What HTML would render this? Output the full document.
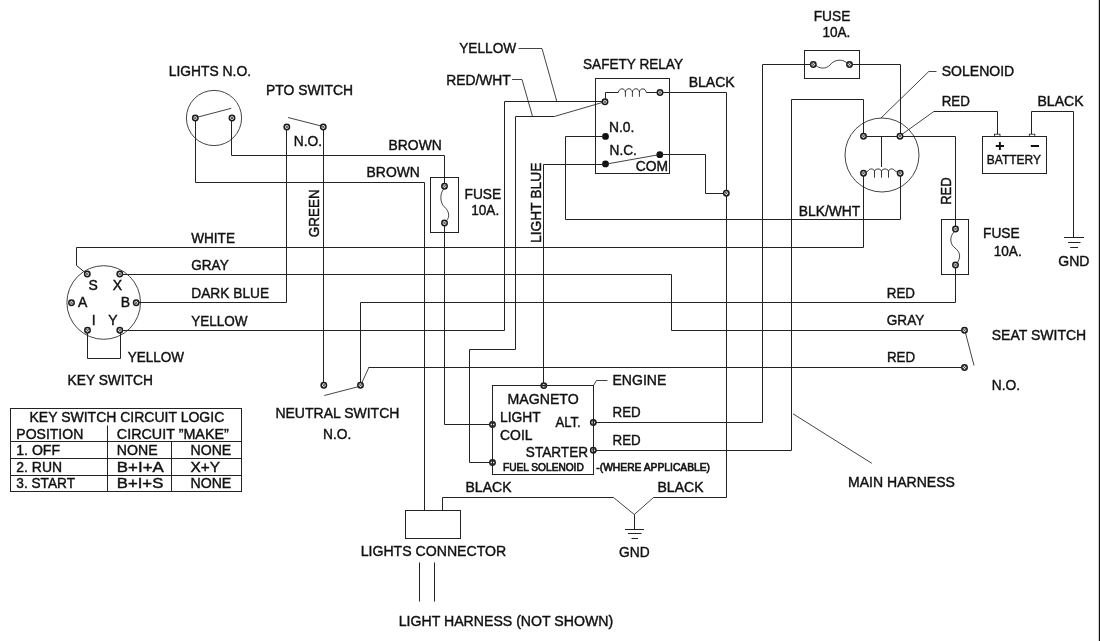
<!DOCTYPE html>
<html lang="en">
<head>
<meta charset="utf-8">
<title>Wiring Diagram</title>
<style>
html,body{margin:0;padding:0;background:#fff;}
body{width:1100px;height:641px;overflow:hidden;}
svg{display:block;will-change:transform;}
text{font-family:"Liberation Sans",Arial,Helvetica,sans-serif;font-size:14px;fill:#111;stroke:#111;stroke-width:0.4px;}
text.s{font-size:10px;stroke-width:0.6px;}
text.m{font-size:12px;}
.w,.wn{fill:none;stroke:#222;stroke-width:1;}
.t{fill:none;stroke:#222;stroke-width:0.85;}
.tm circle{fill:#e4e4e4;stroke:#1a1a1a;stroke-width:1.5;}
.tm path{fill:none;stroke:#333;stroke-width:0.8;}
.d{fill:#111;stroke:none;}
.c{fill:none;stroke:#222;stroke-width:0.9;}
.b{fill:none;stroke:#111;stroke-width:1.9;}
</style>
</head>
<body>
<svg width="1100" height="641" viewBox="0 0 1100 641">
<rect x="1098.8" y="0" width="1.2" height="641" fill="#111"/>
<text transform="translate(168.7 76.25) scale(1 1.085)" textLength="82.3" lengthAdjust="spacingAndGlyphs">LIGHTS N.O.</text>
<circle class="t" cx="214" cy="118" r="27.6"/>
<g class="tm"><circle cx="195.3" cy="118" r="2.7"/><path d="M193.5 119.8L197.1 116.2M193.5 116.2L197.1 119.8"/></g>
<g class="tm"><circle cx="232" cy="118" r="2.7"/><path d="M230.2 119.8L233.8 116.2M230.2 116.2L233.8 119.8"/></g>
<path class="t" d="M197 117.3 L231.3 108.3"/>
<path class="w" d="M195.5 120.5 L195.5 182.5 L424.5 182.5 L424.5 510.5"/>
<path class="w" d="M231.5 120.5 L231.5 155.5 L444.5 155.5 L444.5 184"/>
<text transform="translate(266 95.25) scale(1 1.085)" textLength="87" lengthAdjust="spacingAndGlyphs">PTO SWITCH</text>
<g class="tm"><circle cx="286.8" cy="127" r="2.7"/><path d="M285 128.8L288.6 125.2M285 125.2L288.6 128.8"/></g>
<g class="tm"><circle cx="323.3" cy="127" r="2.7"/><path d="M321.5 128.8L325.1 125.2M321.5 125.2L325.1 128.8"/></g>
<path class="t" d="M288 117.5 L322 126.2"/>
<text transform="translate(293.7 145.85) scale(1 1.085)" textLength="28.3" lengthAdjust="spacingAndGlyphs">N.O.</text>
<path class="w" d="M286.5 129.5 L286.5 302.5"/>
<path class="w" d="M323.5 129.5 L323.5 382.5"/>
<text transform="translate(318.8 237.25) rotate(-90) scale(1 1.085)" textLength="47.9" lengthAdjust="spacingAndGlyphs">GREEN</text>
<text transform="translate(388.5 150.25) scale(1 1.085)" textLength="53.3" lengthAdjust="spacingAndGlyphs">BROWN</text>
<text transform="translate(366.6 177.25) scale(1 1.085)" textLength="53.3" lengthAdjust="spacingAndGlyphs">BROWN</text>
<rect class="w" x="430.5" y="177.5" width="28" height="55"/>
<g class="tm"><circle cx="444.5" cy="186.3" r="2.7"/><path d="M442.7 188.1L446.3 184.5M442.7 184.5L446.3 188.1"/></g>
<g class="tm"><circle cx="444.5" cy="223" r="2.7"/><path d="M442.7 224.8L446.3 221.2M442.7 221.2L446.3 224.8"/></g>
<path class="t" d="M443.8 188.8C439.5 194 440 203 444.5 207C449 211 450.5 217 446 221.2"/>
<text transform="translate(464.5 199.25) scale(1 1.085)" textLength="36.7" lengthAdjust="spacingAndGlyphs">FUSE</text>
<text transform="translate(471.2 215.25) scale(1 1.085)" textLength="28" lengthAdjust="spacingAndGlyphs">10A.</text>
<path class="w" d="M444.5 225.5 L444.5 424.5 L490 424.5"/>
<circle class="t" cx="103.7" cy="302.5" r="36.8"/>
<g class="tm"><circle cx="87.3" cy="274" r="2.7"/><path d="M85.5 275.8L89.1 272.2M85.5 272.2L89.1 275.8"/></g>
<g class="tm"><circle cx="119.8" cy="274" r="2.7"/><path d="M118 275.8L121.6 272.2M118 272.2L121.6 275.8"/></g>
<g class="tm"><circle cx="71.5" cy="302.8" r="2.7"/><path d="M69.7 304.6L73.3 301M69.7 301L73.3 304.6"/></g>
<g class="tm"><circle cx="136.2" cy="302.8" r="2.7"/><path d="M134.4 304.6L138 301M134.4 301L138 304.6"/></g>
<g class="tm"><circle cx="87.5" cy="330.3" r="2.7"/><path d="M85.7 332.1L89.3 328.5M85.7 328.5L89.3 332.1"/></g>
<g class="tm"><circle cx="119.8" cy="330.3" r="2.7"/><path d="M118 332.1L121.6 328.5M118 328.5L121.6 332.1"/></g>
<text transform="translate(88.5 289.65) scale(1 1.085)">S</text>
<text transform="translate(112.7 289.65) scale(1 1.085)">X</text>
<text transform="translate(78 306.65) scale(1 1.085)">A</text>
<text transform="translate(120.7 306.65) scale(1 1.085)">B</text>
<text transform="translate(91.7 324.95) scale(1 1.085)">I</text>
<text transform="translate(108.3 324.95) scale(1 1.085)">Y</text>
<path class="w" d="M85 272.5 L76.5 265.5 L76.5 247.5 L863.5 247.5 L863.5 176"/>
<text transform="translate(191.2 242.65) scale(1 1.085)" textLength="43.75" lengthAdjust="spacingAndGlyphs">WHITE</text>
<path class="w" d="M122.5 274.5 L671.5 274.5 L671.5 330.5 L962 330.5"/>
<text transform="translate(191.2 269.85) scale(1 1.085)" textLength="37.5" lengthAdjust="spacingAndGlyphs">GRAY</text>
<path class="w" d="M138.5 302.5 L286.5 302.5"/>
<text transform="translate(191.2 297.65) scale(1 1.085)" textLength="78" lengthAdjust="spacingAndGlyphs">DARK BLUE</text>
<path class="w" d="M122.5 330.5 L504.5 330.5 L504.5 101.5 L602.5 101.5"/>
<text transform="translate(191.2 325.55) scale(1 1.085)" textLength="56.3" lengthAdjust="spacingAndGlyphs">YELLOW</text>
<path class="w" d="M87.5 333 L87.5 358.5 L120.5 358.5 L120.5 333"/>
<text transform="translate(127.8 362.25) scale(1 1.085)" textLength="56.3" lengthAdjust="spacingAndGlyphs">YELLOW</text>
<text transform="translate(67.5 385.05) scale(1 1.085)" textLength="85.5" lengthAdjust="spacingAndGlyphs">KEY SWITCH</text>
<rect class="w" x="10.5" y="408.5" width="231" height="83"/>
<path class="w" d="M10.5 441.5 L241.5 441.5"/>
<path class="w" d="M10.5 458.5 L241.5 458.5"/>
<path class="w" d="M10.5 475.5 L241.5 475.5"/>
<path class="w" d="M107.5 425.5 L107.5 491.5"/>
<path class="w" d="M171.5 441.5 L171.5 491.5"/>
<text transform="translate(29.5 422.15) scale(1 1.085)" textLength="194.75" lengthAdjust="spacingAndGlyphs">KEY SWITCH CIRCUIT LOGIC</text>
<text transform="translate(16.3 438.75) scale(1 1.085)" textLength="67" lengthAdjust="spacingAndGlyphs">POSITION</text>
<text transform="translate(116.8 438.75) scale(1 1.085)" textLength="112" lengthAdjust="spacingAndGlyphs">CIRCUIT ”MAKE”</text>
<text transform="translate(16.3 455.25) scale(1 1.085)" textLength="43.75" lengthAdjust="spacingAndGlyphs">1. OFF</text>
<text transform="translate(116.8 455.25) scale(1 1.085)" textLength="40.8" lengthAdjust="spacingAndGlyphs">NONE</text>
<text transform="translate(190.5 455.25) scale(1 1.085)" textLength="40.8" lengthAdjust="spacingAndGlyphs">NONE</text>
<text transform="translate(16.3 471.85) scale(1 1.085)" textLength="45.75" lengthAdjust="spacingAndGlyphs">2. RUN</text>
<text transform="translate(116.8 471.85) scale(1 1.085)" textLength="47" lengthAdjust="spacingAndGlyphs">B+I+A</text>
<text transform="translate(190.5 471.85) scale(1 1.085)" textLength="29.5" lengthAdjust="spacingAndGlyphs">X+Y</text>
<text transform="translate(16.3 488.15) scale(1 1.085)" textLength="58.75" lengthAdjust="spacingAndGlyphs">3. START</text>
<text transform="translate(116.8 488.15) scale(1 1.085)" textLength="46.5" lengthAdjust="spacingAndGlyphs">B+I+S</text>
<text transform="translate(190.5 488.15) scale(1 1.085)" textLength="40.8" lengthAdjust="spacingAndGlyphs">NONE</text>
<g class="tm"><circle cx="323.8" cy="385.3" r="2.7"/><path d="M322 387.1L325.6 383.5M322 383.5L325.6 387.1"/></g>
<g class="tm"><circle cx="360.5" cy="385.3" r="2.7"/><path d="M358.7 387.1L362.3 383.5M358.7 383.5L362.3 387.1"/></g>
<path class="t" d="M359 386.5 L324.3 395.5"/>
<path class="t" d="M361.5 383.5 L368.8 367.5"/>
<path class="w" d="M360.5 382.8 L360.5 302.5 L955.5 302.5 L955.5 267.5"/>
<path class="w" d="M368.5 367.5 L962 367.5"/>
<text transform="translate(275.4 417.55) scale(1 1.085)" textLength="124" lengthAdjust="spacingAndGlyphs">NEUTRAL SWITCH</text>
<text transform="translate(323 438.65) scale(1 1.085)" textLength="28.3" lengthAdjust="spacingAndGlyphs">N.O.</text>
<text transform="translate(459.2 53.05) scale(1 1.085)" textLength="57" lengthAdjust="spacingAndGlyphs">YELLOW</text>
<path class="t" d="M518.5 48.5 L542 48.5 L556.8 101.3"/>
<text transform="translate(446.2 84.75) scale(1 1.085)" textLength="64.6" lengthAdjust="spacingAndGlyphs">RED/WHT</text>
<path class="t" d="M512 79.5 L522 79.5 L532.5 116.3"/>
<path class="w" d="M515.5 349.5 L515.5 116.5 L554.3 116.5"/>
<path class="t" d="M554.3 116.5 L603 102.3"/>
<path class="w" d="M515.5 349.5 L469.5 349.5 L469.5 462.5 L490 462.5"/>
<text transform="translate(583 68.65) scale(1 1.085)" textLength="100" lengthAdjust="spacingAndGlyphs">SAFETY RELAY</text>
<rect class="w" x="595.5" y="78.5" width="74" height="95"/>
<g class="tm"><circle cx="605" cy="101.7" r="2.7"/><path d="M603.2 103.5L606.8 99.9M603.2 99.9L606.8 103.5"/></g>
<g class="tm"><circle cx="660" cy="92.5" r="2.7"/><path d="M658.2 94.3L661.8 90.7M658.2 90.7L661.8 94.3"/></g>
<path class="w" d="M605.5 99V92.5H618.3M646.3 92.5H657.4"/>
<path class="c" d="M618.3 92.5C619 87.7 624.7 87.7 625.4 92V96.8M625.4 92C626 87.7 631.7 87.7 632.4 92V96.8M632.4 92C633 87.7 638.7 87.7 639.4 92V96.8M639.4 92C640 87.7 645.6 87.7 646.3 92.5"/>
<path class="w" d="M662.5 92.5 L726.5 92.5 L726.5 497.5"/>
<text transform="translate(688.7 87.25) scale(1 1.085)" textLength="46" lengthAdjust="spacingAndGlyphs">BLACK</text>
<circle class="d" cx="605.5" cy="136.4" r="3.4"/>
<circle class="d" cx="605.5" cy="163.9" r="3.4"/>
<circle class="d" cx="659.8" cy="154.7" r="3.4"/>
<text transform="translate(608.9 132.15) scale(1 1.085)" textLength="25.4" lengthAdjust="spacingAndGlyphs">N.0.</text>
<text transform="translate(609.6 154.65) scale(1 1.085)" textLength="27.3" lengthAdjust="spacingAndGlyphs">N.C.</text>
<text transform="translate(635.8 171.25) scale(1 1.085)" textLength="32.25" lengthAdjust="spacingAndGlyphs">COM</text>
<path class="t" d="M605 164.3 L660 154.5"/>
<path class="w" d="M605 136.5 L565.5 136.5 L565.5 219.5 L900.5 219.5 L900.5 176"/>
<text transform="translate(798.7 215.95) scale(1 1.085)" textLength="61.6" lengthAdjust="spacingAndGlyphs">BLK/WHT</text>
<path class="w" d="M605 164.5 L543.5 164.5 L543.5 383"/>
<text transform="translate(540.9 242.95) rotate(-90) scale(1 1.085)" textLength="80.3" lengthAdjust="spacingAndGlyphs">LIGHT BLUE</text>
<path class="w" d="M660 154.5 L705.5 154.5 L705.5 193.5 L724 193.5"/>
<g class="tm"><circle cx="726.3" cy="193.3" r="2.7"/><path d="M724.5 195.1L728.1 191.5M724.5 191.5L728.1 195.1"/></g>
<text transform="translate(813.7 20.65) scale(1 1.085)" textLength="36.7" lengthAdjust="spacingAndGlyphs">FUSE</text>
<text transform="translate(822.4 37.05) scale(1 1.085)" textLength="28" lengthAdjust="spacingAndGlyphs">10A.</text>
<rect class="w" x="804.5" y="50.5" width="55" height="28"/>
<g class="tm"><circle cx="813.3" cy="64.5" r="2.7"/><path d="M811.5 66.3L815.1 62.7M811.5 62.7L815.1 66.3"/></g>
<g class="tm"><circle cx="849.5" cy="64.5" r="2.7"/><path d="M847.7 66.3L851.3 62.7M847.7 62.7L851.3 66.3"/></g>
<path class="t" d="M816 65.5C819 68.5 826 69.5 830 65C834 59.5 842 58.5 847 63"/>
<path class="w" d="M811 64.5 L762.5 64.5 L762.5 422.5 L596 422.5"/>
<path class="w" d="M852 64.5 L900.5 64.5 L900.5 133.5"/>
<path class="w" d="M863.5 133.5 L863.5 99.5 L791.5 99.5 L791.5 450.5 L596 450.5"/>
<circle class="t" cx="882" cy="155" r="37"/>
<g class="tm"><circle cx="863.5" cy="136.2" r="2.7"/><path d="M861.7 138L865.3 134.4M861.7 134.4L865.3 138"/></g>
<g class="tm"><circle cx="900" cy="136.2" r="2.7"/><path d="M898.2 138L901.8 134.4M898.2 134.4L901.8 138"/></g>
<g class="tm"><circle cx="863.5" cy="173.2" r="2.7"/><path d="M861.7 175L865.3 171.4M861.7 171.4L865.3 175"/></g>
<g class="tm"><circle cx="900.2" cy="173.2" r="2.7"/><path d="M898.4 175L902 171.4M898.4 171.4L902 175"/></g>
<path class="w" d="M866 136.5 L897.2 136.5"/>
<path class="w" d="M902.4 136.5 L955.5 136.5 L955.5 226.5"/>
<path class="w" d="M881.5 136.5 L881.5 167"/>
<path class="c" d="M866 172.5L868.5 170.5C869.5 168.3 873.5 168.3 874.5 171V177.7M874.5 171C875.5 168.3 880.5 168.3 881.5 171V177.7M881.5 171C882.5 168.3 887.5 168.3 888.5 171V177.7M888.5 171C889.5 168.3 893.5 168.3 894.6 170.5L897.5 172.5"/>
<text transform="translate(941.7 76.05) scale(1 1.085)" textLength="72.5" lengthAdjust="spacingAndGlyphs">SOLENOID</text>
<path class="t" d="M936.5 71.5 L928.8 71.5 L881 118"/>
<text transform="translate(941.7 106.05) scale(1 1.085)" textLength="28.2" lengthAdjust="spacingAndGlyphs">RED</text>
<path class="t" d="M901.8 134.5 L933.8 111.5"/>
<path class="w" d="M933.8 111.5 L997.5 111.5 L997.5 134"/>
<text transform="translate(950.6 204.85) rotate(-90) scale(1 1.085)" textLength="27.5" lengthAdjust="spacingAndGlyphs">RED</text>
<rect class="w" x="982.5" y="136.5" width="64" height="37"/>
<rect class="t" x="994.5" y="134.2" width="5.5" height="2.3"/>
<rect class="t" x="1029.3" y="134.2" width="5.5" height="2.3"/>
<text transform="translate(986.8 163.95) scale(1 1)" class="m" textLength="54.1" lengthAdjust="spacingAndGlyphs">BATTERY</text>
<path class="b" d="M995.8 146H1004M999.9 141.9V150.1M1030.8 146H1039"/>
<text transform="translate(1037.5 106.05) scale(1 1.085)" textLength="46" lengthAdjust="spacingAndGlyphs">BLACK</text>
<path class="w" d="M1031.5 134 L1031.5 111.5 L1073.5 111.5 L1073.5 237.5"/>
<path class="w" d="M1064 237.5 L1084 237.5"/>
<path class="w" d="M1068 242.5 L1080.5 242.5"/>
<path class="w" d="M1070.2 247.5 L1078 247.5"/>
<text transform="translate(1058.3 265.75) scale(1 1.085)" textLength="31.1" lengthAdjust="spacingAndGlyphs">GND</text>
<rect class="w" x="941.5" y="219.5" width="27" height="55"/>
<g class="tm"><circle cx="955.5" cy="229" r="2.7"/><path d="M953.7 230.8L957.3 227.2M953.7 227.2L957.3 230.8"/></g>
<g class="tm"><circle cx="955.5" cy="265" r="2.7"/><path d="M953.7 266.8L957.3 263.2M953.7 263.2L957.3 266.8"/></g>
<path class="t" d="M954.5 231.5C949.5 236 949.5 244 955 248C960.5 252 961 258 957 263"/>
<text transform="translate(983 238.25) scale(1 1.085)" textLength="36.7" lengthAdjust="spacingAndGlyphs">FUSE</text>
<text transform="translate(993.7 255.75) scale(1 1.085)" textLength="28" lengthAdjust="spacingAndGlyphs">10A.</text>
<text transform="translate(886.8 297.55) scale(1 1.085)" textLength="28.2" lengthAdjust="spacingAndGlyphs">RED</text>
<text transform="translate(886.8 325.35) scale(1 1.085)" textLength="37.5" lengthAdjust="spacingAndGlyphs">GRAY</text>
<text transform="translate(886.9 361.85) scale(1 1.085)" textLength="28.2" lengthAdjust="spacingAndGlyphs">RED</text>
<g class="tm"><circle cx="964.5" cy="330.3" r="2.7"/><path d="M962.7 332.1L966.3 328.5M962.7 328.5L966.3 332.1"/></g>
<g class="tm"><circle cx="964.5" cy="367.5" r="2.7"/><path d="M962.7 369.3L966.3 365.7M962.7 365.7L966.3 369.3"/></g>
<path class="t" d="M965.5 333 L974 365.5"/>
<text transform="translate(991.7 339.55) scale(1 1.085)" textLength="94.5" lengthAdjust="spacingAndGlyphs">SEAT SWITCH</text>
<text transform="translate(991.7 389.55) scale(1 1.085)" textLength="28.3" lengthAdjust="spacingAndGlyphs">N.O.</text>
<g class="tm"><circle cx="543.8" cy="385.6" r="2.7"/><path d="M542 387.4L545.6 383.8M542 383.8L545.6 387.4"/></g>
<g class="tm"><circle cx="492.5" cy="424.5" r="2.7"/><path d="M490.7 426.3L494.3 422.7M490.7 422.7L494.3 426.3"/></g>
<g class="tm"><circle cx="492.5" cy="462.5" r="2.7"/><path d="M490.7 464.3L494.3 460.7M490.7 460.7L494.3 464.3"/></g>
<g class="tm"><circle cx="593.3" cy="422.5" r="2.7"/><path d="M591.5 424.3L595.1 420.7M591.5 420.7L595.1 424.3"/></g>
<g class="tm"><circle cx="593.3" cy="450.3" r="2.7"/><path d="M591.5 452.1L595.1 448.5M591.5 448.5L595.1 452.1"/></g>
<rect class="wn" x="492.5" y="385.5" width="101" height="89"/>
<path class="t" d="M593.5 385.5 L596.5 380.5 L607.5 380.5"/>
<text transform="translate(612.5 385.15) scale(1 1.085)" textLength="53.75" lengthAdjust="spacingAndGlyphs">ENGINE</text>
<text transform="translate(507.5 403.75) scale(1 1.085)" textLength="71.25" lengthAdjust="spacingAndGlyphs">MAGNETO</text>
<text transform="translate(500 422.25) scale(1 1.085)" textLength="40.75" lengthAdjust="spacingAndGlyphs">LIGHT</text>
<text transform="translate(500 440.15) scale(1 1.085)" textLength="32.5" lengthAdjust="spacingAndGlyphs">COIL</text>
<text transform="translate(555.5 426.75) scale(1 1.085)" textLength="25.25" lengthAdjust="spacingAndGlyphs">ALT.</text>
<text transform="translate(525.8 456.85) scale(1 1.085)" textLength="62.25" lengthAdjust="spacingAndGlyphs">STARTER</text>
<text transform="translate(503 470.95) scale(1 1.03)" class="s" textLength="80.75" lengthAdjust="spacingAndGlyphs">FUEL SOLENOID</text>
<text transform="translate(596.3 470.95) scale(1 1.03)" class="s" textLength="113.75" lengthAdjust="spacingAndGlyphs">-(WHERE APPLICABLE)</text>
<text transform="translate(612.5 417.15) scale(1 1.085)" textLength="28.2" lengthAdjust="spacingAndGlyphs">RED</text>
<text transform="translate(612.5 444.95) scale(1 1.085)" textLength="28.2" lengthAdjust="spacingAndGlyphs">RED</text>
<text transform="translate(465.5 491.95) scale(1 1.085)" textLength="46" lengthAdjust="spacingAndGlyphs">BLACK</text>
<text transform="translate(657.5 491.95) scale(1 1.085)" textLength="46" lengthAdjust="spacingAndGlyphs">BLACK</text>
<path class="w" d="M442.5 510.5 L442.5 497.5 L613.5 497.5"/>
<path class="w" d="M653.5 497.5 L726.5 497.5"/>
<path class="t" d="M613.5 497.5 L634.3 514.5 L653.5 497.5"/>
<path class="w" d="M634.5 514.5 L634.5 529.5"/>
<path class="w" d="M625 529.5 L644 529.5"/>
<path class="w" d="M628 533.5 L641.5 533.5"/>
<path class="w" d="M631.5 538.5 L638 538.5"/>
<text transform="translate(619 556.85) scale(1 1.085)" textLength="30.6" lengthAdjust="spacingAndGlyphs">GND</text>
<rect class="w" x="405.5" y="510.5" width="55" height="28"/>
<text transform="translate(360.7 556.25) scale(1 1.085)" textLength="145.5" lengthAdjust="spacingAndGlyphs">LIGHTS CONNECTOR</text>
<path class="w" d="M419.5 562.5 L419.5 601.5"/>
<path class="w" d="M434.5 562.5 L434.5 601.5"/>
<text transform="translate(398.7 625.55) scale(1 1.085)" textLength="214.5" lengthAdjust="spacingAndGlyphs">LIGHT HARNESS (NOT SHOWN)</text>
<path class="t" d="M793 413.8 L871.8 463.3"/>
<text transform="translate(848 486.75) scale(1 1.085)" textLength="106.9" lengthAdjust="spacingAndGlyphs">MAIN HARNESS</text>
</svg>
</body>
</html>
